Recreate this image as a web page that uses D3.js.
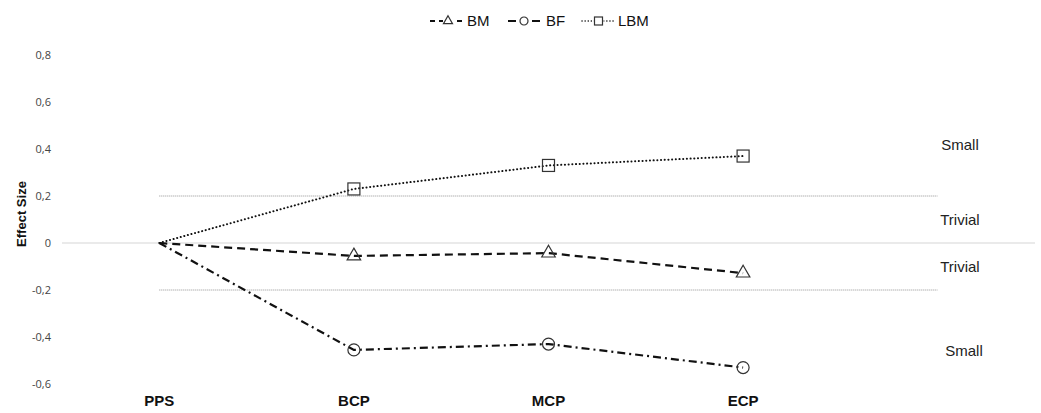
<!DOCTYPE html>
<html>
<head>
<meta charset="utf-8">
<script src="https://cdn.jsdelivr.net/npm/d3@7"></script>
<style>
html,body{margin:0;padding:0;background:#fff;}
svg{display:block;font-family:"Liberation Sans",Arial,sans-serif;}
</style>
</head>
<body>
<svg id="chart" width="1041" height="413"></svg>
<script>
// ---- data ----
const categories = ["PPS", "BCP", "MCP", "ECP", ""];
const seriesNames = ["BM", "BF", "LBM"];
const bmValues  = [0, -0.055, -0.043, -0.128];
const bfValues  = [0, -0.455, -0.43, -0.53];
const lbmValues = [0, 0.23, 0.33, 0.37];
const yTicks = [0.8, 0.6, 0.4, 0.2, 0, -0.2, -0.4, -0.6];
const thresholds = [0.2, -0.2];
const zoneLabels = ["Small", "Trivial", "Trivial", "Small"];
const zoneValues = [0.42, 0.1, -0.1, -0.46];

(function () {
// ---- layout ----
const svg = d3.select("#chart");
const pLeft = 62, pRight = 1035, pTop = 55, pBottom = 384;

const x = d3.scaleBand().domain(categories).range([pLeft, pRight]).paddingInner(0).paddingOuter(0);
const cx = c => x(c) + x.bandwidth() / 2;
const y = d3.scaleLinear().domain([-0.6, 0.8]).range([pBottom, pTop]);

// zero line
svg.append("line")
  .attr("x1", pLeft).attr("x2", pRight)
  .attr("y1", y(0)).attr("y2", y(0))
  .attr("stroke", "#e3e3e3").attr("stroke-width", 1.5);

// threshold lines
svg.selectAll(".thr").data(thresholds).enter().append("line")
  .attr("x1", cx(categories[0])).attr("x2", cx(categories[4]))
  .attr("y1", d => y(d)).attr("y2", d => y(d))
  .attr("stroke", "#777").attr("stroke-width", 0.8)
  .attr("stroke-dasharray", "1,1");

// y tick labels
const yAxis = d3.axisLeft(y).tickValues(yTicks)
  .tickFormat(d => d === 0 ? "0" : d3.format(".1f")(d).replace(".", ",").replace("\u2212", "-"))
  .tickSize(0).tickPadding(0);
const ya = svg.append("g").attr("transform", "translate(51,0)").call(yAxis);
ya.select(".domain").remove();
ya.selectAll("text").attr("font-size", 11).attr("fill", "#444")
  .attr("font-family", "'Open Sans','Liberation Sans',sans-serif");

// y title
svg.append("text")
  .attr("transform", `translate(21,214) rotate(-90)`)
  .attr("dy", "0.35em")
  .attr("text-anchor", "middle")
  .attr("font-size", 13).attr("font-weight", "bold").attr("fill", "#111")
  .text("Effect Size");

// x axis labels
const xAxis = d3.axisBottom(x).tickSize(0).tickPadding(0);
const xa = svg.append("g").attr("transform", "translate(0,395)").call(xAxis);
xa.select(".domain").remove();
xa.selectAll("text").attr("font-size", 15).attr("font-weight", "bold").attr("fill", "#111");

// series
const series = [
  {name: "BM", values: bmValues, dash: "8,5", cap: "butt", marker: "triangle"},
  {name: "BF", values: bfValues, dash: "8,4,2,4", cap: "butt", marker: "circle"},
  {name: "LBM", values: lbmValues, dash: "0.1,3.6", cap: "round", marker: "square"}
];

const line = d3.line().x((d, i) => cx(categories[i])).y(d => y(d));

function drawMarker(g, type, size) {
  if (type === "triangle") {
    g.append("path").attr("d", d3.symbol().type(d3.symbolTriangle).size(size * size * 0.55)());
  } else if (type === "circle") {
    g.append("circle").attr("r", size / 2);
  } else {
    g.append("rect").attr("x", -size / 2).attr("y", -size / 2).attr("width", size).attr("height", size);
  }
  g.selectAll("*").attr("fill", "none").attr("stroke", "#333").attr("stroke-width", 1.2);
}

series.forEach(s => {
  svg.append("path").datum(s.values)
    .attr("d", line)
    .attr("fill", "none").attr("stroke", "#111")
    .attr("stroke-width", s.marker === "square" ? 2 : 2.2)
    .attr("stroke-linecap", s.cap)
    .attr("stroke-dasharray", s.dash);
  s.values.forEach((v, i) => {
    if (i === 0) return;
    const g = svg.append("g").attr("transform", `translate(${cx(categories[i])},${y(v)})`);
    drawMarker(g, s.marker, 12);
  });
});

// zone labels
svg.selectAll(".zone").data(zoneLabels).enter().append("text")
  .attr("x", (d, i) => i === 3 ? 964 : 960)
  .attr("y", (d, i) => y(zoneValues[i]))
  .attr("dy", "0.35em")
  .attr("text-anchor", "middle")
  .attr("font-size", 15).attr("fill", "#222")
  .text(d => d);

// legend
const legendItems = [
  {name: "BM", dash: "5,4", cap: "butt", marker: "triangle", x: 430, w: 36, gap: 1},
  {name: "BF", dash: "8,4", cap: "butt", marker: "circle", x: 508, w: 32, gap: 6},
  {name: "LBM", dash: "0.1,3", cap: "round", marker: "square", x: 582, w: 33, gap: 3}
];
legendItems.forEach(it => {
  const g = svg.append("g").attr("transform", `translate(${it.x},21)`);
  g.append("line").attr("x1", 0).attr("x2", it.w).attr("y1", 0).attr("y2", 0)
    .attr("stroke", "#111").attr("stroke-width", it.marker === "square" ? 1.5 : 2)
    .attr("stroke-linecap", it.cap).attr("stroke-dasharray", it.dash);
  const mg = g.append("g").attr("transform", `translate(${it.w / 2},0)`);
  mg.append("rect").attr("x", -5).attr("y", -5).attr("width", 10).attr("height", 10).attr("fill", "#fff");
  const inner = mg.append("g");
  drawMarker(inner, it.marker, 8);
  g.append("text").attr("x", it.w + it.gap).attr("y", 0).attr("dy", "0.35em")
    .attr("font-size", 15).attr("fill", "#111").text(it.name);
});
})();
</script>
</body>
</html>
